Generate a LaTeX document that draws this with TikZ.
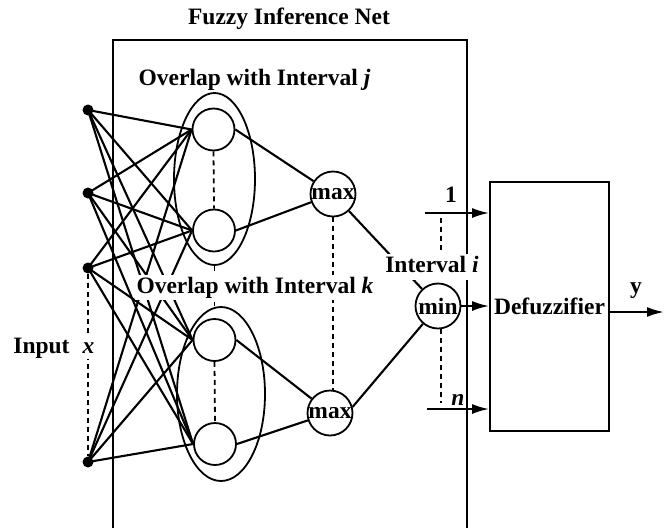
\documentclass[tikz,border=0pt]{standalone}
\usepackage{fontspec}
\setmainfont{Liberation Serif}
\usetikzlibrary{positioning,arrows.meta,shapes.geometric}

\begin{document}
\begin{tikzpicture}[x=1pt,y=-1pt,
  every node/.style={font=\fontsize{23.5}{28}\selectfont\bfseries},
  unit/.style={draw,circle,line width=1.8pt,minimum size=42pt,inner sep=0pt},
  gate/.style={draw,circle,line width=1.8pt,minimum size=45pt,inner sep=0pt},
  inp/.style={circle,fill=black,minimum size=11pt,inner sep=0pt},
  group/.style={draw,ellipse,line width=1.8pt,inner sep=0pt},
  wire/.style={line width=2.1pt},
  dots/.style={line width=1.8pt,dash pattern=on 5pt off 4pt},
  lbl/.style={fill=white,inner sep=1.5pt,anchor=base},
  sig/.style={line width=2.1pt,-{Latex[length=17pt,width=10pt]}}]

    \useasboundingbox (0,0) rectangle (672,528);

    \draw[line width=1.8pt] (113,528) -- (113,40) -- (467,40) -- (467,528); %net frame

    \node[inp] (in1) at (88,110) {};
    \node[inp] (in2) at (88,193) {};
    \node[inp] (in3) at (88,268) {};
    \node[inp] (in4) at (88,462) {};

    \node[unit] (j1) at (213.5,129.5) {};
    \node[unit] (j2) at (214,230.5) {};
    \node[unit] (k1) at (214.5,340) {};
    \node[unit] (k2) at (215,444) {};

    \node[group,minimum width=81pt,minimum height=172pt] (gj) at (214.5,179) {};
    \node[group,minimum width=88pt,minimum height=174pt] (gk) at (221,394) {};

    \node[gate] (mx1) at (333,194) {max};
    \node[gate] (mx2) at (330,413) {max};
    \node[gate] (mn) at (438,306) {min};

    \node[draw,line width=1.8pt,minimum width=119pt,minimum height=249pt,inner sep=0pt]
      (dfz) at (549.5,306.5) {Defuzzifier};

    \foreach \i in {1,...,4} {
      \foreach \u in {j1,j2,k1,k2} {
        \draw[wire] (in\i.center) -- (\u.west);
      }
    }

    \draw[wire] (j1.east) -- (mx1);
    \draw[wire] (j2.east) -- (mx1);
    \draw[wire] (k1.east) -- (mx2);
    \draw[wire] (k2.east) -- (mx2);
    \draw[wire] (mx1) -- (mn);
    \draw[wire] (mx2.15) -- (mn);

    \draw[dots] (in3) -- (in4);
    \draw[dots] (j1.south) -- (j2.north);
    \draw[dots] (gj.south) -- (gj.south |- gk.north);
    \draw[dots] (k1.south) -- (k2.north);
    \draw[dots] (mx1.south) -- (mx1.south |- mx2.north);

    \coordinate (s1) at (425,213);
    \coordinate (sn) at (427,409);
    \coordinate (yend) at (664,312);

    \draw[sig] (s1) -- (s1 -| dfz.west);
    \draw[sig] (mn.east) -- (mn.east -| dfz.west);
    \draw[sig] (sn) -- (sn -| dfz.west);
    \draw[sig] (yend -| dfz.east) -- (yend);

    \node[anchor=base] (title) at (289,24) {Fuzzy Inference Net};
    \node[lbl] (ovj) at (254.5,85) {Overlap with Interval \textit{j}};
    \node[lbl] (ovk) at (255,293) {Overlap with Interval \textit{k}};
    \node[lbl,text height=17pt,text depth=7pt,inner sep=1pt] (ivi) at (432,272) {Interval \textit{i}};
    \node[anchor=base] (inlbl) at (41.5,353) {Input};
    \node[lbl,inner ysep=6pt] (xin) at (88.5,353) {\textit{x}};
    \node[anchor=base] (one) at (451,202) {1};
    \node[anchor=base] (nn) at (458,405) {\textit{n}};
    \node[anchor=base] (yout) at (636,293) {y};

    \coordinate (d1) at (441,218);
    \coordinate (dn) at (441,403);
    \draw[dots] (d1) -- (ivi.north -| d1);
    \draw[dots] (mn.south -| dn) -- (dn);
  \end{tikzpicture}
\end{document}
